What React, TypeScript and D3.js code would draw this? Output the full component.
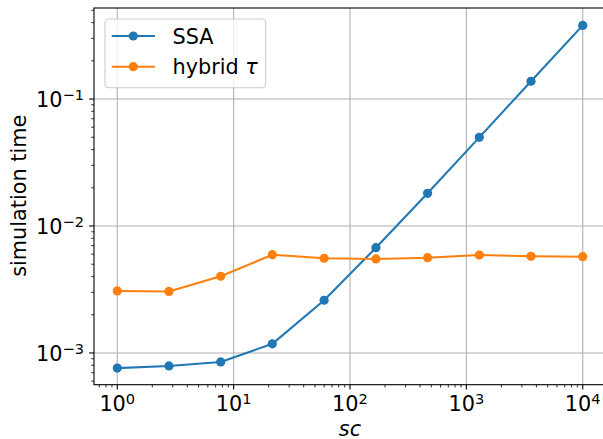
import React from "react";
import * as d3 from "d3";

const scValues = [1, 2.78, 7.74, 21.5, 59.9, 167, 464, 1292, 3594, 10000];
const ssaTimes = [7.6e-4, 7.9e-4, 8.5e-4, 1.18e-3, 2.6e-3, 6.75e-3, 0.0181, 0.0499, 0.138, 0.38];
const hybridTimes = [3.08e-3, 3.05e-3, 4.02e-3, 5.94e-3, 5.57e-3, 5.5e-3, 5.63e-3, 5.91e-3, 5.77e-3, 5.73e-3];
const xMajorExps = [0, 1, 2, 3, 4];
const yMajorExps = [-3, -2, -1];
const seriesNames = ["SSA", "hybrid "];
const seriesColors = ["#1f77b4", "#ff7f0e"];

const W = 603;
const H = 439;
const left = 94;
const right = 606;
const top = 8;
const bottom = 384.7;
const FONT = "DejaVu Sans, sans-serif";
const FS = 20.8;
const SUP = 14.6;

export default function App() {
  const x = d3.scaleLog().domain([Math.pow(10, -0.2), Math.pow(10, 4.2)]).range([left, right]);
  const y = d3.scaleLog().domain([Math.pow(10, -3.25), Math.pow(10, -0.283)]).range([bottom, top]);

  const xMinor: number[] = [];
  for (let e = -1; e <= 4; e++) for (let m = 2; m <= 9; m++) {
    const v = m * Math.pow(10, e);
    if (v >= x.domain()[0] && v <= x.domain()[1]) xMinor.push(v);
  }
  const yMinor: number[] = [];
  for (let e = -4; e <= 0; e++) for (let m = 2; m <= 9; m++) {
    const v = m * Math.pow(10, e);
    if (v >= y.domain()[0] && v <= y.domain()[1]) yMinor.push(v);
  }

  const line = d3.line<[number, number]>().x(d => x(d[0])).y(d => y(d[1]));
  const series = [ssaTimes, hybridTimes];

  return (
    <svg width={W} height={H} style={{ position: "absolute", left: 0, top: 0 }} fontFamily={FONT}>
      <defs>
        <clipPath id="plot">
          <rect x={left} y={top} width={right - left} height={bottom - top} />
        </clipPath>
      </defs>
      <rect x={0} y={0} width={W} height={H} fill="white" />
      {/* grid */}
      {xMajorExps.map(e => (
        <line key={"gx" + e} x1={x(Math.pow(10, e))} x2={x(Math.pow(10, e))} y1={top} y2={bottom} stroke="#b0b0b0" strokeWidth={1.1} />
      ))}
      {yMajorExps.map(e => (
        <line key={"gy" + e} x1={left} x2={right} y1={y(Math.pow(10, e))} y2={y(Math.pow(10, e))} stroke="#b0b0b0" strokeWidth={1.1} />
      ))}
      {/* series */}
      <g clipPath="url(#plot)">
        {series.map((s, i) => (
          <g key={"s" + i}>
            <path d={line(scValues.map((v, j) => [v, s[j]] as [number, number])) || ""} fill="none" stroke={seriesColors[i]} strokeWidth={2.08} strokeLinejoin="round" strokeLinecap="square" />
            {scValues.map((v, j) => (
              <circle key={j} cx={x(v)} cy={y(s[j])} r={4.6} fill={seriesColors[i]} />
            ))}
          </g>
        ))}
      </g>
      {/* spines */}
      <rect x={left} y={top} width={right - left} height={bottom - top} fill="none" stroke="black" strokeWidth={1.1} />
      {/* x ticks */}
      {xMajorExps.map(e => (
        <g key={"xt" + e}>
          <line x1={x(Math.pow(10, e))} x2={x(Math.pow(10, e))} y1={bottom} y2={bottom + 4.86} stroke="black" strokeWidth={1.1} />
          <text x={x(Math.pow(10, e))} y={411.2} textAnchor="middle" fontSize={FS}>
            10<tspan dy={-7} fontSize={SUP}>{String(e)}</tspan>
          </text>
        </g>
      ))}
      {xMinor.map((v, i) => (
        <line key={"xm" + i} x1={x(v)} x2={x(v)} y1={bottom} y2={bottom + 2.8} stroke="black" strokeWidth={0.8} />
      ))}
      {/* y ticks */}
      {yMajorExps.map(e => (
        <g key={"yt" + e}>
          <line x1={left - 4.86} x2={left} y1={y(Math.pow(10, e))} y2={y(Math.pow(10, e))} stroke="black" strokeWidth={1.1} />
          <text x={84} y={y(Math.pow(10, e)) + 7.6} textAnchor="end" fontSize={FS}>
            10<tspan dy={-7} fontSize={SUP}>{"\u2212" + String(-e)}</tspan>
          </text>
        </g>
      ))}
      {yMinor.map((v, i) => (
        <line key={"ym" + i} x1={left - 2.8} x2={left} y1={y(v)} y2={y(v)} stroke="black" strokeWidth={0.8} />
      ))}
      {/* axis labels */}
      <text x={(left + right) / 2} y={435.5} textAnchor="middle" fontSize={FS} fontStyle="italic">sc</text>
      <text transform={`translate(25.5,195.8) rotate(-90)`} textAnchor="middle" fontSize={FS}>simulation time</text>
      {/* legend */}
      <rect x={105} y={19} width={160.7} height={68.7} rx={4} fill="white" fillOpacity={0.8} stroke="#cccccc" strokeWidth={1.1} />
      {seriesNames.map((name, i) => {
        const ly = 36 + i * 30.7;
        return (
          <g key={"lg" + i}>
            <line x1={111.7} x2={155} y1={ly} y2={ly} stroke={seriesColors[i]} strokeWidth={2.08} />
            <circle cx={133.3} cy={ly} r={4.6} fill={seriesColors[i]} />
            <text x={172.5} y={ly + 7.6} fontSize={FS}>
              {name}
              {i === 1 ? <tspan fontStyle="italic">τ</tspan> : null}
            </text>
          </g>
        );
      })}
    </svg>
  );
}
